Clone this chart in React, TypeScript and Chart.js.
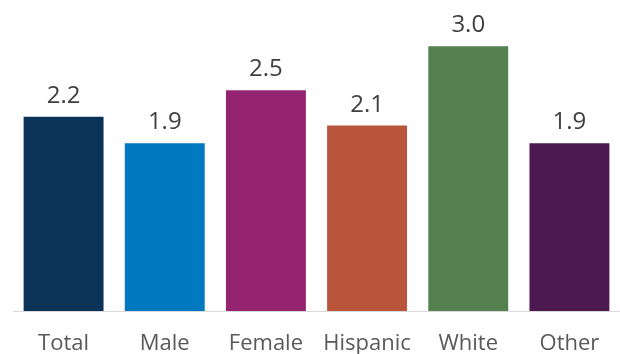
import React, { useEffect, useRef } from "react";
import { Chart, registerables } from "chart.js";

Chart.register(...registerables);

const categories = ["Total", "Male", "Female", "Hispanic", "White", "Other"];
const values = [2.2, 1.9, 2.5, 2.1, 3.0, 1.9];
const barColors = ["#0b3357", "#0079c1", "#952470", "#b8553a", "#558150", "#4c1850"];

const valueLabels = {
  id: "valueLabels",
  afterDatasetsDraw(chart: any) {
    const ctx = chart.ctx;
    const meta = chart.getDatasetMeta(0);
    ctx.save();
    ctx.font = "24px 'Open Sans'";
    ctx.fillStyle = "#404040";
    ctx.textAlign = "center";
    ctx.textBaseline = "alphabetic";
    meta.data.forEach((bar: any, i: number) => {
      const v = chart.data.datasets[0].data[i] as number;
      ctx.fillText(v.toFixed(1), bar.x, bar.y - 14);
    });
    ctx.restore();
  },
};

export default function App() {
  const ref = useRef<HTMLCanvasElement | null>(null);
  useEffect(() => {
    if (!ref.current) return;
    const chart = new Chart(ref.current, {
      type: "bar",
      data: {
        labels: categories,
        datasets: [
          {
            data: values,
            backgroundColor: barColors,
            borderWidth: 0,
            categoryPercentage: 1,
            barPercentage: 0.79,
          },
        ],
      },
      options: {
        animation: false,
        responsive: false,
        maintainAspectRatio: false,
        layout: { padding: { left: 13, right: 0, top: 2, bottom: 0 } },
        plugins: { legend: { display: false }, tooltip: { enabled: false } },
        scales: {
          y: { display: false, min: 0, max: 3.5 },
          x: {
            grid: { display: false, drawTicks: false },
            border: { display: true, color: "#d9d9d9", width: 1 },
            ticks: {
              color: "#595959",
              font: { family: "'Open Sans'", size: 22 },
              padding: 20,
              maxRotation: 0,
              autoSkip: false,
            },
            afterFit: (axis: any) => {
              axis.height = 43;
            },
          },
        },
      },
      plugins: [valueLabels],
    });
    return () => chart.destroy();
  }, []);
  return (
    <div style={{ position: "fixed", left: 0, top: 0, width: 620, height: 354, background: "#fff" }}>
      <canvas ref={ref} width={620} height={354} style={{ display: "block" }} />
    </div>
  );
}
